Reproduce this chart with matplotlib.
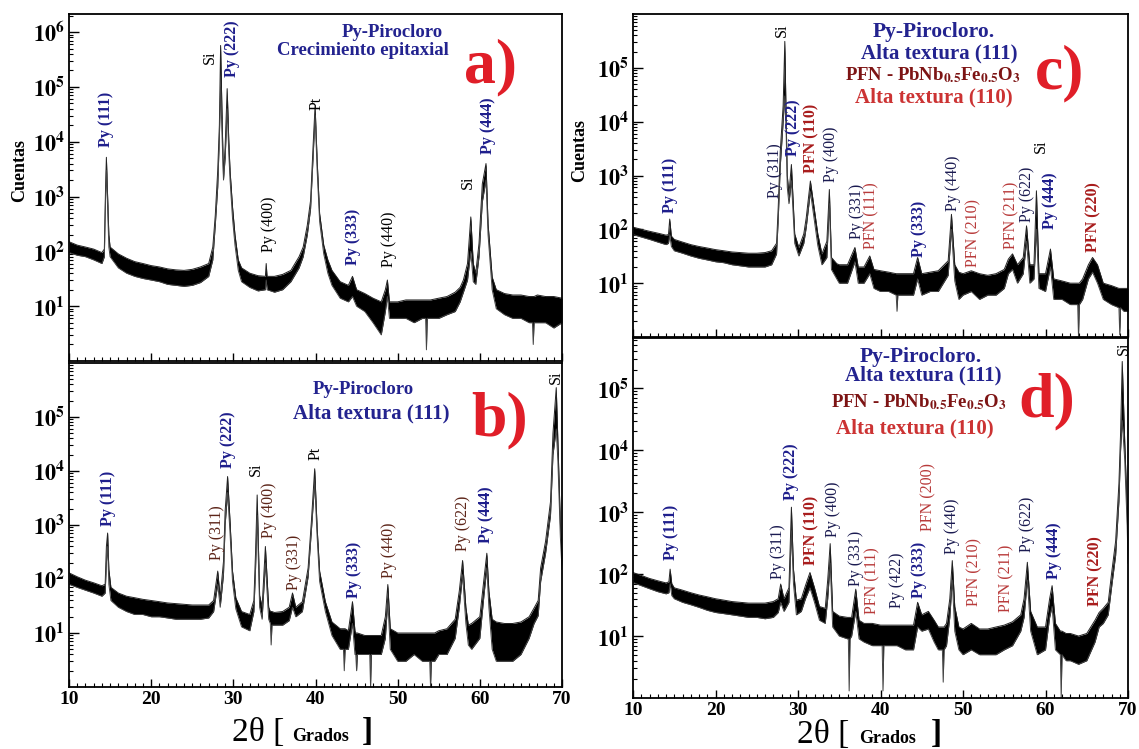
import numpy as np
import matplotlib.pyplot as plt
from matplotlib.ticker import LogLocator, MultipleLocator, NullFormatter

plt.rcParams['font.family'] = ['Liberation Serif', 'DejaVu Serif']
plt.rcParams['mathtext.fontset'] = 'stix'

# ------------------------------
# spectra: (2θ, top of noise band, bottom of noise band)
# ------------------------------
a_pts = [
    (10.0, 150, 95), (11.0, 130, 85), (12.0, 120, 80), (13.0, 110, 70), (14.0, 95, 60),
    (14.3, 110, 80), (14.45, 1500, 1000), (14.55, 5200, 3000), (14.7, 1000, 600),
    (14.85, 200, 120), (15.0, 120, 80), (16.0, 90, 50), (17.0, 75, 40), (18.0, 65, 35),
    (19.0, 60, 32), (20.0, 55, 30), (21.0, 52, 28), (22.0, 48, 25), (23.0, 46, 24),
    (24.0, 45, 23), (25.0, 47, 24), (26.0, 52, 27), (27.0, 60, 35), (27.5, 120, 70),
    (27.8, 450, 300), (28.1, 3000, 1500), (28.3, 20000, 12000), (28.45, 570000, 100000),
    (28.65, 20000, 10000), (28.8, 2500, 2000), (29.0, 8000, 5000), (29.25, 93000, 40000),
    (29.45, 10000, 6000), (29.6, 3000, 2000), (29.9, 650, 400), (30.2, 200, 130),
    (30.6, 70, 45), (31.0, 50, 28), (32.0, 40, 22), (33.0, 36, 19), (33.9, 35, 20),
    (34.0, 60, 30), (34.1, 35, 20), (35.0, 35, 18), (36.0, 38, 20), (37.0, 45, 28),
    (38.0, 80, 50), (38.5, 120, 80), (39.0, 300, 200), (39.4, 850, 600), (39.7, 8000, 5000),
    (39.95, 46000, 30000), (40.2, 4600, 3000), (40.5, 490, 350), (41.0, 130, 90),
    (41.5, 70, 40), (42.0, 45, 24), (43.0, 28, 14), (44.0, 24, 12), (44.5, 35, 15),
    (45.0, 20, 10), (46.0, 17, 8), (47.0, 14, 5), (48.0, 12, 3), (48.5, 20, 8),
    (48.75, 30, 15), (49.0, 12, 6), (50.0, 12, 6), (51.0, 13, 6), (52.0, 13, 5),
    (53.0, 13, 6), (53.4, 13, 6), (53.5, 13, 1.6), (53.6, 13, 6), (54.0, 13, 6),
    (55.0, 14, 6), (56.0, 15, 7),
    (57.0, 18, 8), (57.6, 22, 12), (58.0, 30, 18), (58.5, 60, 30), (58.9, 425, 100),
    (59.2, 60, 28), (59.5, 40, 25), (59.9, 140, 80), (60.3, 1700, 800), (60.75, 4000, 2000),
    (61.0, 320, 200), (61.5, 34, 20), (62.0, 20, 9), (63.0, 17, 7), (64.0, 16, 6),
    (65.0, 16, 6), (66.0, 15, 5), (66.4, 15, 5), (66.5, 15, 2), (66.6, 15, 5),
    (67.0, 16, 5), (68.0, 15, 5), (69.0, 15, 4), (70.0, 14, 5),
]

b_pts = [
    (10.0, 130, 80), (11.0, 110, 70), (12.0, 95, 62), (13.0, 85, 55), (14.0, 75, 48),
    (14.4, 80, 55), (14.55, 400, 200), (14.7, 710, 400), (14.85, 150, 80), (15.1, 70, 40),
    (16.0, 55, 30), (17.0, 48, 25), (18.0, 45, 22), (19.0, 42, 22), (20.0, 40, 20),
    (21.0, 38, 20), (22.0, 36, 19), (23.0, 35, 18), (24.0, 34, 18), (25.0, 33, 18),
    (26.0, 33, 18), (27.0, 33, 19), (27.6, 40, 25), (28.1, 140, 80), (28.4, 45, 30),
    (28.8, 210, 120), (29.0, 1800, 1000), (29.3, 7900, 4000), (29.6, 1150, 700),
    (29.9, 140, 90), (30.3, 45, 28), (31.0, 25, 13), (32.0, 22, 11), (32.5, 40, 25),
    (32.7, 300, 150), (32.9, 3600, 1500), (33.2, 50, 30), (33.5, 30, 18), (33.9, 400, 200),
    (34.3, 30, 18), (34.5, 25, 15), (34.6, 25, 6), (34.7, 25, 14), (35.0, 24, 14),
    (36.0, 25, 14), (36.8, 30, 17),
    (37.2, 55, 30), (37.6, 30, 20), (38.4, 38, 25), (39.1, 160, 110), (39.5, 1170, 800),
    (39.9, 11000, 6000), (40.2, 880, 600), (40.5, 140, 90), (41.2, 38, 25), (42.0, 16, 9),
    (43.0, 12, 5), (43.4, 12, 5), (43.5, 12, 2), (43.6, 12, 5), (44.0, 11, 5),
    (44.5, 38, 15), (44.8, 11, 4), (44.9, 10, 4), (45.0, 10, 2), (45.1, 10, 4),
    (46.0, 9, 4), (46.6, 9, 4), (46.7, 9, 1), (46.8, 9, 4), (47.0, 9, 4), (48.0, 9, 4),
    (48.5, 20, 8), (48.8, 79, 40), (49.1, 12, 5), (50.0, 10, 3), (51.0, 10, 3),
    (52.0, 10, 4), (53.0, 10, 3), (53.9, 10, 3), (54.0, 10, 1), (54.1, 10, 3),
    (54.5, 10, 3), (55.0, 11, 4), (56.0, 12, 4),
    (57.0, 18, 8), (57.5, 60, 30), (57.9, 220, 120), (58.3, 30, 15), (58.6, 14, 6),
    (59.0, 15, 5), (60.0, 20, 8), (60.5, 100, 50), (60.85, 300, 160), (61.1, 60, 30),
    (61.5, 18, 5), (62.0, 16, 3), (63.0, 15, 3), (64.0, 15, 3), (65.0, 16, 4),
    (66.0, 20, 8), (66.6, 29, 15), (67.1, 40, 21), (67.4, 160, 90), (68.0, 500, 300),
    (68.6, 2700, 1500), (68.9, 50000, 20000), (69.3, 350000, 60000), (69.5, 35000, 15000),
    (69.8, 1100, 600), (70.0, 280, 150),
]

c_pts = [
    (10.0, 110, 80), (11.0, 100, 72), (12.0, 92, 65), (13.0, 85, 58), (14.0, 78, 52),
    (14.3, 80, 55), (14.45, 155, 80), (14.65, 75, 48), (15.0, 65, 40), (16.0, 58, 36),
    (17.0, 52, 32), (18.0, 48, 29), (19.0, 45, 27), (20.0, 42, 25), (21.0, 40, 24),
    (22.0, 38, 22), (23.0, 37, 21), (24.0, 36, 20), (25.0, 36, 20), (26.0, 37, 20),
    (26.8, 40, 22), (27.4, 55, 35), (27.6, 250, 150), (27.85, 2800, 1500),
    (28.2, 20000, 10000), (28.4, 310000, 30000), (28.55, 15000, 8000), (28.7, 1000, 600),
    (28.9, 450, 300), (29.2, 1600, 800), (29.6, 82, 55), (30.1, 46, 32), (30.7, 82, 55),
    (31.0, 165, 110), (31.5, 790, 500), (31.9, 290, 180), (32.4, 82, 50), (32.9, 35, 22),
    (33.5, 60, 30), (33.8, 550, 300), (34.05, 30, 18), (34.7, 23, 12), (35.0, 22, 10),
    (36.0, 22, 10), (36.9, 46, 25), (37.3, 20, 10), (38.0, 20, 10), (38.7, 32, 15),
    (39.2, 18, 8), (40.0, 17, 7), (41.0, 16, 7), (41.9, 15, 6), (42.0, 15, 3),
    (42.1, 15, 6), (43.0, 15, 6),
    (44.0, 15, 6), (44.5, 30, 12), (45.0, 15, 6), (46.0, 16, 7), (47.0, 17, 7),
    (48.2, 26, 14), (48.6, 190, 100), (49.0, 22, 11), (49.5, 16, 5), (50.0, 15, 6),
    (51.0, 17, 7), (52.0, 15, 5), (53.0, 14, 6), (54.0, 15, 6), (55.0, 18, 8),
    (55.5, 28, 15), (56.0, 35, 18), (56.6, 22, 10), (57.3, 30, 15), (57.7, 116, 60),
    (58.1, 22, 10), (58.6, 22, 12), (58.9, 520, 100), (59.2, 15, 8), (60.0, 15, 7),
    (60.6, 43, 20), (61.0, 12, 5), (62.0, 11, 5), (63.0, 10, 4), (63.9, 10, 4),
    (64.0, 10, 1), (64.1, 10, 4),
    (64.5, 12, 5), (65.2, 22, 12), (65.7, 30, 16), (66.3, 22, 10), (67.0, 10, 5),
    (68.0, 9, 4), (68.9, 8, 3.5), (69.0, 8, 1.1), (69.1, 8, 3.5), (69.5, 8, 3),
    (70.0, 8, 3),
]

d_pts = [
    (10.0, 106, 73), (11.0, 95, 65), (12.0, 85, 58), (13.0, 78, 52), (14.0, 72, 48),
    (14.35, 75, 50), (14.5, 120, 70), (14.7, 70, 45), (15.0, 60, 40), (16.0, 55, 35),
    (17.0, 50, 32), (18.0, 46, 29), (19.0, 43, 26), (20.0, 40, 24), (21.0, 38, 23),
    (22.0, 36, 22), (23.0, 35, 21), (24.0, 34, 20), (25.0, 34, 20), (26.0, 34, 19),
    (27.0, 36, 20), (27.6, 40, 24), (27.9, 69, 35), (28.3, 40, 25), (28.9, 60, 35),
    (29.2, 1200, 500), (29.45, 120, 70), (29.8, 38, 22), (30.4, 40, 25), (30.9, 65, 40),
    (31.45, 106, 60), (32.0, 60, 35), (32.6, 30, 18), (33.3, 28, 16), (33.6, 80, 40),
    (33.9, 310, 150), (34.2, 25, 14), (35.0, 21, 10), (36.0, 20, 9), (36.1, 20, 9),
    (36.2, 20, 1.3), (36.3, 20, 9),
    (36.5, 20, 10), (37.0, 57, 25), (37.4, 18, 9), (38.0, 16, 8), (39.0, 16, 7),
    (40.0, 15, 7), (40.2, 15, 7), (40.3, 15, 1.3), (40.4, 15, 7), (40.6, 15, 7),
    (41.0, 15, 7), (42.0, 15, 7),
    (43.0, 15, 6), (44.0, 15, 6), (44.5, 35, 14), (45.0, 22, 12), (45.8, 25, 13),
    (46.5, 18, 8), (47.0, 14, 6), (47.5, 14, 6), (47.6, 14, 1.8), (47.7, 14, 6),
    (48.0, 16, 7), (48.4, 40, 20),
    (48.7, 165, 80), (49.0, 30, 12), (49.5, 14, 6), (50.0, 13, 5), (51.0, 16, 6),
    (52.0, 13, 5), (53.0, 13, 5), (54.0, 14, 5), (55.0, 15, 6), (56.0, 17, 7),
    (57.0, 22, 12), (57.4, 40, 20), (57.8, 155, 80), (58.2, 25, 12), (59.0, 14, 5),
    (60.0, 14, 6), (60.5, 40, 20), (60.8, 65, 30), (61.2, 16, 6), (61.8, 12, 5),
    (61.9, 12, 1.0), (62.0, 12, 5),
    (62.5, 11, 4), (63.0, 11, 4), (64.0, 10, 3.5), (65.0, 11, 4), (66.0, 18, 8),
    (66.5, 24, 14), (67.0, 28, 16), (67.6, 35, 22), (68.0, 100, 60), (68.5, 340, 200),
    (68.9, 2900, 1500), (69.1, 19000, 10000), (69.3, 270000, 30000), (69.6, 14000, 7000),
    (69.9, 1100, 600), (70.0, 250, 150),
]

# ------------------------------
# peak labels: (text, 2θ, log10 of label start, style)
# ------------------------------
a_labels = [
    ("Py (111)", 14.5, 3.9, 'blue'), ("Si", 27.1, 5.42, 'black'),
    ("Py (222)", 29.85, 5.18, 'blue'), ("Py (400)", 34.35, 1.99, 'black'),
    ("Pt", 40.1, 4.57, 'black'), ("Py (333)", 44.6, 1.75, 'blue'),
    ("Py (440)", 49.0, 1.72, 'black'), ("Si", 58.6, 3.14, 'black'),
    ("Py (444)", 61.0, 3.78, 'blue'),
]
b_labels = [
    ("Py (111)", 14.8, 2.98, 'blue'), ("Py (311)", 28.0, 2.36, 'brown'),
    ("Py (222)", 29.4, 4.06, 'blue'), ("Si", 32.8, 3.9, 'black'),
    ("Py (400)", 34.35, 2.76, 'brown'), ("Py (331)", 37.4, 1.8, 'brown'),
    ("Pt", 40.0, 4.2, 'black'), ("Py (333)", 44.7, 1.65, 'blue'),
    ("Py (440)", 49.0, 2.02, 'brown'), ("Py (622)", 57.9, 2.51, 'brown'),
    ("Py (444)", 60.8, 2.67, 'blue'), ("Si", 69.3, 5.62, 'black'),
]
c_labels = [
    ("Py (111)", 14.5, 2.31, 'blue'), ("Si", 28.05, 5.58, 'black'),
    ("Py (311)", 27.2, 2.59, 'navy'), ("Py (222)", 29.4, 3.36, 'blue'),
    ("PFN (110)", 31.6, 3.05, 'redb'), ("Py (400)", 34.05, 2.87, 'navy'),
    ("Py (331)", 37.1, 1.82, 'navy'), ("PFN (111)", 38.9, 1.63, 'red'),
    ("Py (333)", 44.7, 1.48, 'blue'), ("Py (440)", 48.8, 2.34, 'navy'),
    ("PFN (210)", 51.3, 1.30, 'red'), ("PFN (211)", 55.9, 1.63, 'red'),
    ("Py (622)", 57.7, 2.13, 'navy'), ("Si", 59.4, 3.42, 'black'),
    ("Py (444)", 60.6, 2.0, 'blue'), ("PFN (220)", 65.8, 1.57, 'redb'),
]
d_labels = [
    ("Py (111)", 14.6, 2.22, 'blue'), ("Py (311)", 27.6, 1.92, 'navy'),
    ("Py (222)", 29.2, 3.2, 'blue'), ("PFN (110)", 31.6, 2.14, 'redb'),
    ("Py (400)", 34.2, 2.6, 'navy'), ("Py (331)", 37.0, 1.81, 'navy'),
    ("PFN (111)", 39.0, 1.35, 'red'), ("Py (422)", 42.0, 1.46, 'navy'),
    ("Py (333)", 44.7, 1.62, 'blue'), ("PFN (200)", 45.8, 2.7, 'red'),
    ("Py (440)", 48.7, 2.32, 'navy'), ("PFN (210)", 51.4, 1.49, 'red'),
    ("PFN (211)", 55.3, 1.38, 'red'), ("Py (622)", 57.8, 2.35, 'navy'),
    ("Py (444)", 61.0, 1.92, 'blue'), ("PFN (220)", 66.0, 1.49, 'redb'),
    ("Si", 69.55, 5.54, 'black'),
]

PFN_FORMULA = r"PFN - PbNb$_{\mathbf{0.5}}$Fe$_{\mathbf{0.5}}$O$_{\mathbf{3}}$"

# panel captions: (text, 2θ, log10 y, colour key, size)
a_titles = [("Py-Pirocloro", 49.4, 6.0, 'tblue', 13.5),
            ("Crecimiento epitaxial", 45.8, 5.67, 'tblue', 13.5)]
b_titles = [("Py-Pirocloro", 45.8, 5.51, 'tblue', 13.5),
            ("Alta textura (111)", 46.8, 5.06, 'tblue', 15)]
c_titles = [("Py-Pirocloro.", 46.5, 5.66, 'tblue', 15.5),
            ("Alta textura (111)", 47.1, 5.27, 'tblue', 15),
            (PFN_FORMULA, 46.4, 4.87, 'tdark', 13.5),
            ("Alta textura (110)", 46.5, 4.44, 'tred', 15)]
d_titles = [("Py-Pirocloro.", 44.9, 5.5, 'tblue', 15.5),
            ("Alta textura (111)", 45.2, 5.21, 'tblue', 15),
            (PFN_FORMULA, 44.7, 4.77, 'tdark', 13.5),
            ("Alta textura (110)", 44.1, 4.35, 'tred', 15)]

panel_letters = [("a)", 61.25, 5.36), ("b)", 62.4, 4.94), ("c)", 61.75, 4.9), ("d)", 60.1, 4.78)]

x_ticks = [10, 20, 30, 40, 50, 60, 70]
y_ticks_a = [1e1, 1e2, 1e3, 1e4, 1e5, 1e6]
y_ticks_rest = [1e1, 1e2, 1e3, 1e4, 1e5]

STYLE = {
    'blue': dict(color='#1e1e8c', fontweight='bold'),
    'black': dict(color='black', fontweight='normal'),
    'brown': dict(color='#5c2418', fontweight='normal'),
    'navy': dict(color='#1a1a50', fontweight='normal'),
    'redb': dict(color='#a81c1c', fontweight='bold'),
    'red': dict(color='#b83a3a', fontweight='normal'),
}
TCOL = {'tblue': '#23238f', 'tdark': '#7d1414', 'tred': '#cc3333'}

W, H = 1139, 749
fig = plt.figure(figsize=(W / 100, H / 100), dpi=100)
fig.patch.set_facecolor('white')


def px_box(x0, y0, x1, y1):
    # pixel box of the reference -> figure fraction
    return [x0 / W, 1 - y1 / H, (x1 - x0) / W, (y1 - y0) / H]


ax_a = fig.add_axes(px_box(69, 14, 562, 361))
ax_b = fig.add_axes(px_box(69, 363, 562, 687))
ax_c = fig.add_axes(px_box(633, 14, 1128, 337))
ax_d = fig.add_axes(px_box(633, 338, 1128, 698))

panels = [
    (ax_a, a_pts, a_labels, a_titles, 10 ** 6.33, y_ticks_a, False),
    (ax_b, b_pts, b_labels, b_titles, 1e6, y_ticks_rest, True),
    (ax_c, c_pts, c_labels, c_titles, 1e6, y_ticks_rest, False),
    (ax_d, d_pts, d_labels, d_titles, 10 ** 5.81, y_ticks_rest, True),
]

for i, (ax, pts, labels, titles, ytop, yticks, show_x) in enumerate(panels):
    x, hi, lo = np.array(pts, dtype=float).T
    ax.fill_between(x, lo, hi, color='black', lw=0)
    ax.plot(x, hi, color='#222222', lw=0.7)
    ax.plot(x, lo, color='#444444', lw=0.7)

    ax.set_yscale('log')
    ax.set_xlim(10, 70)
    ax.set_ylim(1, ytop)

    ax.set_xticks(x_ticks)
    ax.xaxis.set_minor_locator(MultipleLocator(1))
    if show_x:
        ax.set_xticklabels([str(t) for t in x_ticks], fontsize=14, fontweight='bold')
    else:
        ax.set_xticklabels([])
    ax.set_yticks(yticks)
    ax.set_yticklabels([r'$\mathbf{10^{%d}}$' % int(round(np.log10(t))) for t in yticks],
                       fontsize=16)
    ax.yaxis.set_minor_locator(LogLocator(base=10, subs=np.arange(2, 10), numticks=20))
    ax.yaxis.set_minor_formatter(NullFormatter())
    ax.tick_params(which='major', direction='in', length=6, width=1.0, pad=3)
    ax.tick_params(which='minor', direction='in', length=3, width=0.8)
    ax.tick_params(axis='y', which='major', length=7)
    for sp in ax.spines.values():
        sp.set_linewidth(1.3)

    for txt, px, ly, kind in labels:
        ax.text(px, 10 ** ly, txt, rotation=90, ha='center', va='bottom',
                fontsize=11.5, **STYLE[kind])

    for txt, px, ly, ck, fs in titles:
        ax.text(px, 10 ** ly, txt, ha='center', va='center', fontsize=fs,
                fontweight='bold', color=TCOL[ck])

    let, lx, lly = panel_letters[i]
    ax.text(lx, 10 ** lly, let, ha='center', va='center', fontsize=46,
            fontweight='bold', color='#e01e28')

# y axis titles
fig.text(20 / W, 1 - 171 / H, "Cuentas", rotation=90, ha='center', va='center',
         fontsize=13, fontweight='bold')
fig.text(580 / W, 1 - 150 / H, "Cuentas", rotation=90, ha='center', va='center',
         fontsize=13, fontweight='bold')

# x axis titles: 2θ [ Grados ]
for x0, xg, xb, base in [(232, 292, 362, 741), (797, 859, 931, 743)]:
    fig.text(x0 / W, 1 - base / H, "2θ [", fontsize=24, ha='left', va='baseline')
    fig.text(xg / W, 1 - base / H, "Grados", fontsize=13, fontweight='bold',
             ha='left', va='baseline')
    fig.text(xb / W, 1 - base / H, "]", fontsize=24, fontweight='bold',
             ha='left', va='baseline')

fig.savefig("out.png", dpi=100)
